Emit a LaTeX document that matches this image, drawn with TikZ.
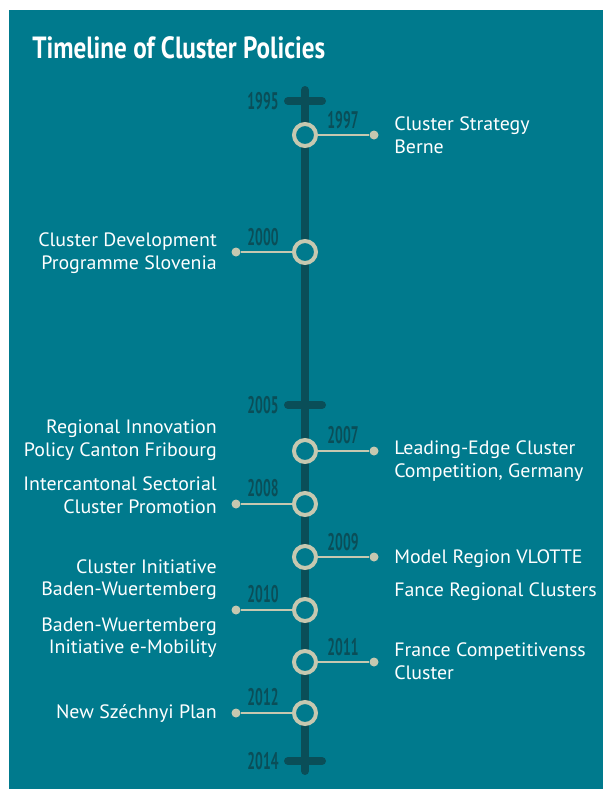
\documentclass[tikz,border=0pt]{standalone}
\usepackage{fontspec}
\setmainfont{PT Sans}[FakeStretch=1.03]
\newfontfamily\titlefont[FakeStretch=0.82]{PT Sans}
\newfontfamily\yearfont[FakeStretch=0.57]{PT Sans}

\definecolor{bgteal}{HTML}{007A8D}
\definecolor{spinec}{HTML}{0A4E58}
\definecolor{ringc}{HTML}{C6C8B0}

\tikzset{
  spine/.style={draw=spinec,line width=6pt,line cap=round},
  event/.style={circle,draw=ringc,fill=bgteal,line width=3pt,minimum size=16.5pt,inner sep=0pt},
  enddot/.style={circle,fill=ringc,minimum size=6.75pt,inner sep=0pt},
  link/.style={draw=ringc,line width=1.9pt},
  year/.style={text=spinec,inner sep=0pt,font=\yearfont\bfseries\fontsize{18}{18}\selectfont},
  rtext/.style={anchor=west,align=left,text=white,inner sep=0pt,font=\fontsize{14.5}{17}\selectfont},
  ltext/.style={anchor=east,align=right,text=white,inner sep=0pt,font=\fontsize{14.5}{17}\selectfont}
}

\begin{document}
\begin{tikzpicture}[x=0.75pt,y=-0.75pt]
\useasboundingbox (0,0) rectangle (603,789);
\fill[bgteal] (9,10) rectangle (603,789);

\node[anchor=west,text=white,inner sep=0pt,font=\titlefont\bfseries\fontsize{23}{23}\selectfont] (title) at (32,48) {Timeline of Cluster Policies};

\coordinate (top) at (305,90);
\coordinate (bottom) at (305,771);
\coordinate (t1995) at (305,101);
\coordinate (t2005) at (305,405);
\coordinate (t2014) at (305,761);
\draw[spine] (top)--(bottom);
\draw[spine] ([xshift=-12.75pt]t1995)--([xshift=12.75pt]t1995);
\draw[spine] ([xshift=-12.75pt]t2005)--([xshift=12.75pt]t2005);
\draw[spine] ([xshift=-12.75pt]t2014)--([xshift=12.75pt]t2014);
\node[year] (y1995) at (263,101) {1995};
\node[year] (y2005) at (263,405) {2005};
\node[year] (y2014) at (263,761) {2014};

\node[event] (e1997) at (305,135) {};
\node[event] (e2000) at (305,252) {};
\node[event] (e2007) at (305,451) {};
\node[event] (e2008) at (305,504) {};
\node[event] (e2009) at (305,557) {};
\node[event] (e2010) at (305,610) {};
\node[event] (e2011) at (305,662) {};
\node[event] (e2012) at (305,713) {};

\node[enddot] (d1997) at (374,135) {};
\node[enddot] (d2000) at (236,252) {};
\node[enddot] (d2007) at (374,451) {};
\node[enddot] (d2008) at (236,504) {};
\node[enddot] (d2009) at (374,557) {};
\node[enddot] (d2010) at (236,610) {};
\node[enddot] (d2011) at (374,662) {};
\node[enddot] (d2012) at (236,713) {};

\draw[link] (e1997)--(d1997);
\draw[link] (e2000)--(d2000);
\draw[link] (e2007)--(d2007);
\draw[link] (e2008)--(d2008);
\draw[link] (e2009)--(d2009);
\draw[link] (e2010)--(d2010);
\draw[link] (e2011)--(d2011);
\draw[link] (e2012)--(d2012);

\node[year] (y1997) at (343,120) {1997};
\node[year] (y2000) at (263,237) {2000};
\node[year] (y2007) at (343,435) {2007};
\node[year] (y2008) at (263,488) {2008};
\node[year] (y2009) at (343,542) {2009};
\node[year] (y2010) at (263,594) {2010};
\node[year] (y2011) at (343,647) {2011};
\node[year] (y2012) at (263,697) {2012};

\node[rtext] (berne) at (394,135) {Cluster Strategy\\Berne};
\node[ltext] (slovenia) at (217,253) {Cluster Development\\Programme Slovenia};
\node[ltext] (fribourg) at (217,440.5) {Regional Innovation\\Policy Canton Fribourg};
\node[rtext] (germany) at (394,461) {Leading-Edge Cluster\\Competition, Germany};
\node[ltext] (intercant) at (217,495.5) {Intercantonal Sectorial\\Cluster Promotion};
\node[rtext] (vlotte) at (394,559) {Model Region VLOTTE};
\node[rtext] (fance) at (394,592) {Fance Regional Clusters};
\node[ltext] (bwinit) at (217,579.5) {Cluster Initiative\\Baden-Wuertemberg};
\node[ltext] (bwmob) at (217,637.5) {Baden-Wuertemberg\\Initiative e-Mobility};
\node[rtext] (france) at (394,661.5) {France Competitivenss\\Cluster};
\node[ltext] (szechnyi) at (217,714) {New Széchnyi Plan};
\end{tikzpicture}
\end{document}
